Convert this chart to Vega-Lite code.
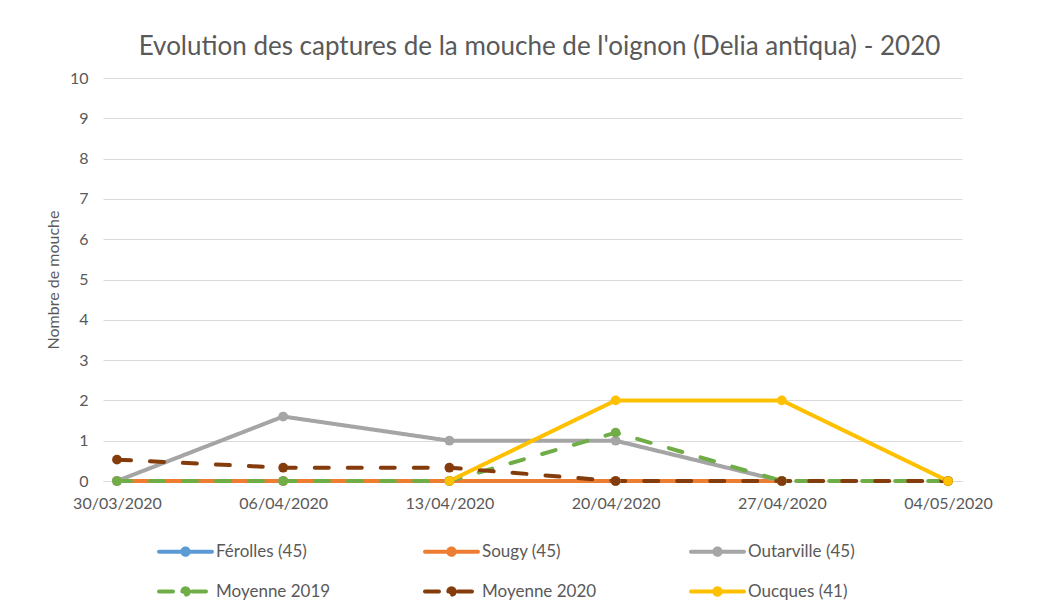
{
  "$schema": "https://vega.github.io/schema/vega-lite/v6.json",
  "width": 859,
  "height": 403,
  "autosize": {"type": "none"},
  "padding": {"left": 103, "top": 78, "right": 97, "bottom": 126},
  "background": "white",
  "config": {
    "font": "Lato",
    "view": {"stroke": null}
  },
  "title": {
    "text": "Evolution des captures de la mouche de l'oignon (Delia antiqua) - 2020",
    "fontSize": 26,
    "fontWeight": "normal",
    "color": "#595959",
    "anchor": "middle",
    "dx": 7,
    "offset": 10
  },
  "data": {
    "values": [
      {"series": "Férolles (45)", "date": "30/03/2020", "value": 0},
      {"series": "Férolles (45)", "date": "06/04/2020", "value": 0},
      {"series": "Férolles (45)", "date": "13/04/2020", "value": 0},
      {"series": "Férolles (45)", "date": "20/04/2020", "value": 0},
      {"series": "Férolles (45)", "date": "27/04/2020", "value": 0},
      {"series": "Sougy (45)", "date": "30/03/2020", "value": 0},
      {"series": "Sougy (45)", "date": "06/04/2020", "value": 0},
      {"series": "Sougy (45)", "date": "13/04/2020", "value": 0},
      {"series": "Sougy (45)", "date": "20/04/2020", "value": 0},
      {"series": "Sougy (45)", "date": "27/04/2020", "value": 0},
      {"series": "Outarville (45)", "date": "30/03/2020", "value": 0},
      {"series": "Outarville (45)", "date": "06/04/2020", "value": 1.6},
      {"series": "Outarville (45)", "date": "13/04/2020", "value": 1},
      {"series": "Outarville (45)", "date": "20/04/2020", "value": 1},
      {"series": "Outarville (45)", "date": "27/04/2020", "value": 0},
      {"series": "Moyenne 2019", "date": "30/03/2020", "value": 0},
      {"series": "Moyenne 2019", "date": "06/04/2020", "value": 0},
      {"series": "Moyenne 2019", "date": "13/04/2020", "value": 0},
      {"series": "Moyenne 2019", "date": "20/04/2020", "value": 1.2},
      {"series": "Moyenne 2019", "date": "27/04/2020", "value": 0},
      {"series": "Moyenne 2019", "date": "04/05/2020", "value": 0},
      {"series": "Moyenne 2020", "date": "30/03/2020", "value": 0.53},
      {"series": "Moyenne 2020", "date": "06/04/2020", "value": 0.33},
      {"series": "Moyenne 2020", "date": "13/04/2020", "value": 0.33},
      {"series": "Moyenne 2020", "date": "20/04/2020", "value": 0},
      {"series": "Moyenne 2020", "date": "27/04/2020", "value": 0},
      {"series": "Moyenne 2020", "date": "04/05/2020", "value": 0},
      {"series": "Oucques (41)", "date": "13/04/2020", "value": 0},
      {"series": "Oucques (41)", "date": "20/04/2020", "value": 2},
      {"series": "Oucques (41)", "date": "27/04/2020", "value": 2},
      {"series": "Oucques (41)", "date": "04/05/2020", "value": 0}
    ]
  },
  "encoding": {
    "x": {
      "field": "date",
      "type": "ordinal",
      "scale": {
        "type": "point",
        "domain": ["30/03/2020", "06/04/2020", "13/04/2020", "20/04/2020", "27/04/2020", "04/05/2020"],
        "padding": 0.084
      },
      "axis": {
        "title": null,
        "labelAngle": 0,
        "labelFontSize": 16,
        "labelColor": "#595959",
        "labelPadding": 14,
        "ticks": false,
        "domain": true,
        "domainColor": "#D9D9D9",
        "domainWidth": 1,
        "grid": false
      }
    },
    "y": {
      "field": "value",
      "type": "quantitative",
      "scale": {"domain": [0, 10], "nice": false},
      "axis": {
        "title": "Nombre de mouche",
        "titleFontSize": 16,
        "titleFontWeight": "normal",
        "titleColor": "#595959",
        "titlePadding": 8,
        "values": [0, 1, 2, 3, 4, 5, 6, 7, 8, 9, 10],
        "labelFontSize": 16,
        "labelColor": "#595959",
        "labelPadding": 15,
        "ticks": false,
        "domain": false,
        "grid": true,
        "gridColor": "#D9D9D9",
        "gridWidth": 1
      }
    },
    "color": {
      "field": "series",
      "type": "nominal",
      "scale": {
        "domain": ["Férolles (45)", "Sougy (45)", "Outarville (45)", "Moyenne 2019", "Moyenne 2020", "Oucques (41)"],
        "range": ["#5B9BD5", "#ED7D31", "#A5A5A5", "#70AD47", "#843C0C", "#FFC000"]
      },
      "legend": {
        "title": null,
        "orient": "none",
        "legendX": 54,
        "legendY": 445,
        "columns": 3,
        "direction": "horizontal",
        "gridAlign": "all",
        "columnPadding": 86,
        "rowPadding": -7,
        "padding": 0,
        "symbolType": "M-1,0L1,0M-0.12,0A0.12,0.12,0,1,1,0.12,0A0.12,0.12,0,1,1,-0.12,0Z",
        "symbolSize": 2809,
        "symbolStrokeWidth": 4,
        "labelFontSize": 17,
        "labelColor": "#595959",
        "labelOffset": 2,
        "labelLimit": 200,
        "encode": {
          "symbols": {
            "update": {
              "fill": {"scale": "color", "field": "value"},
              "stroke": {"scale": "color", "field": "value"},
              "strokeCap": {"value": "round"},
              "opacity": {"value": 1},
              "strokeDash": {"signal": "indexof(['Moyenne 2019','Moyenne 2020'], datum.value) >= 0 ? [16, 21] : [1, 0]"}
            }
          }
        }
      }
    }
  },
  "layer": [
    {
      "mark": {"type": "line", "strokeWidth": 4, "strokeCap": "round", "strokeJoin": "round"},
      "encoding": {
        "strokeDash": {
          "field": "series",
          "type": "nominal",
          "scale": {
            "domain": ["Férolles (45)", "Sougy (45)", "Outarville (45)", "Moyenne 2019", "Moyenne 2020", "Oucques (41)"],
            "range": [[1, 0], [1, 0], [1, 0], [14, 19], [14, 19], [1, 0]]
          },
          "legend": null
        }
      }
    },
    {
      "mark": {"type": "point", "filled": true, "size": 95, "opacity": 1}
    }
  ]
}
